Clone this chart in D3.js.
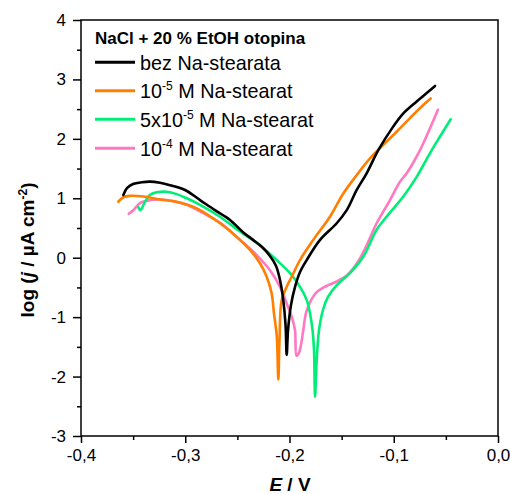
<!DOCTYPE html>
<html>
<head>
<meta charset="utf-8">
<script src="https://cdn.jsdelivr.net/npm/d3@7/dist/d3.min.js"></script>
<style>
  html, body { margin: 0; padding: 0; background: #fff; }
  svg { display: block; }
  text { font-family: "Liberation Sans", Arial, sans-serif; fill: #000; }
</style>
</head>
<body>
<svg id="chart" width="510" height="494"></svg>
<script>
// ---- data ----
const xTicks = [-0.4, -0.3, -0.2, -0.1, 0.0];
const xTickLabels = ["-0,4", "-0,3", "-0,2", "-0,1", "0,0"];
const yTicks = [-3, -2, -1, 0, 1, 2, 3, 4];
const yTickLabels = ["-3", "-2", "-1", "0", "1", "2", "3", "4"];

const seriesNames = ["bez Na-stearata", "10^-5 M Na-stearat", "5x10^-5 M Na-stearat", "10^-4 M Na-stearat"];
const seriesColors = ["#000000", "#ff7f00", "#00ee77", "#ff78c0"];

const bezE = [-0.3594,-0.3559,-0.3501,-0.3415,-0.3338,-0.3242,-0.3146,-0.3002,-0.2858,-0.2715,-0.2571,-0.2446,-0.235,-0.2264,-0.2187,-0.2129,-0.2091,-0.206,-0.2038,-0.2027,
  -0.2014,-0.1986,-0.1947,-0.1899,-0.1835,-0.1707,-0.1547,-0.1451,-0.1355,-0.126,-0.1148,-0.1004,-0.0908,-0.078,-0.0684,-0.0604];
const bezLogJ = [1.056,1.17,1.24,1.27,1.28,1.26,1.22,1.14,0.97,0.80,0.635,0.43,0.30,0.18,0.03,-0.14,-0.375,-0.71,-1.13,-1.638,
  -1.22,-0.80,-0.49,-0.24,-0.04,0.30,0.58,0.80,1.14,1.42,1.81,2.21,2.43,2.63,2.77,2.89];

const m5E = [-0.3642,-0.3594,-0.353,-0.3402,-0.3242,-0.3082,-0.289,-0.2731,-0.2571,-0.2379,-0.2283,-0.2219,-0.2171,-0.2149,-0.2123,-0.2107,
  -0.2096,-0.2075,-0.2027,-0.1979,-0.1899,-0.1772,-0.1612,-0.1484,-0.1355,-0.1228,-0.11,-0.0972,-0.0844,-0.0717,-0.0646];
const m5LogJ = [0.943,1.017,1.04,1.03,0.98,0.94,0.83,0.66,0.45,0.13,-0.094,-0.32,-0.60,-0.94,-1.30,-2.05,
  -1.39,-0.71,-0.49,-0.32,-0.04,0.30,0.69,1.08,1.39,1.67,1.90,2.12,2.35,2.57,2.68];

const m55E = [-0.345,-0.3431,-0.3386,-0.3338,-0.3274,-0.3178,-0.3082,-0.2986,-0.2858,-0.2667,-0.2475,-0.2283,-0.2123,-0.1995,-0.1899,-0.1835,-0.1803,-0.1779,-0.1765,-0.1755,
  -0.1739,-0.1717,-0.1679,-0.1631,-0.1547,-0.142,-0.1292,-0.1164,-0.1055,-0.0908,-0.078,-0.0652,-0.0556,-0.0454];
const m55LogJ = [0.85,0.80,0.94,1.06,1.10,1.11,1.07,1.00,0.89,0.69,0.44,0.21,-0.04,-0.26,-0.49,-0.71,-0.94,-1.22,-1.55,-2.34,
  -1.72,-1.22,-0.88,-0.66,-0.46,-0.26,0.02,0.47,0.72,1.03,1.36,1.76,2.04,2.33];

const m4E = [-0.3542,-0.3498,-0.3434,-0.3338,-0.3242,-0.3115,-0.2986,-0.2827,-0.2667,-0.2475,-0.2315,-0.2187,-0.2091,-0.2027,-0.1979,-0.1947,-0.1933,
  -0.1909,-0.189,-0.1868,-0.1842,-0.1803,-0.1739,-0.165,-0.1547,-0.1451,-0.1388,-0.1324,-0.126,-0.1164,-0.1036,-0.094,-0.0876,-0.0748,-0.0652,-0.0576];
const m4LogJ = [0.74,0.80,0.92,0.97,0.98,0.95,0.89,0.75,0.59,0.30,0.045,-0.21,-0.49,-0.77,-0.99,-1.22,-1.65,
  -1.60,-1.47,-1.22,-0.93,-0.75,-0.58,-0.48,-0.40,-0.30,-0.18,-0.01,0.21,0.58,0.97,1.28,1.42,1.81,2.18,2.49];

const seriesE = [bezE, m5E, m55E, m4E];
const seriesLogJ = [bezLogJ, m5LogJ, m55LogJ, m4LogJ];

// ---- layout ----
const svg = d3.select("#chart");
const x = d3.scaleLinear().domain([-0.4, 0.0]).range([81, 498]);
const y = d3.scaleLinear().domain([-3, 4]).range([436, 20]);

const line = d3.line().x(d => x(d[0])).y(d => y(d[1])).curve(d3.curveCatmullRom.alpha(0.5));
const plot = svg.append("g");
const order = [3, 2, 1, 0];
order.forEach(i => {
  const pts = seriesE[i].map((e, k) => [e, seriesLogJ[i][k]]);
  plot.append("path")
    .attr("d", line(pts))
    .attr("fill", "none")
    .attr("stroke", seriesColors[i])
    .attr("stroke-width", 2.6)
    .attr("stroke-linejoin", "round")
    .attr("stroke-linecap", "round");
});

// frame
svg.append("rect").attr("x", 81).attr("y", 20).attr("width", 417).attr("height", 416)
  .attr("fill", "none").attr("stroke", "#000").attr("stroke-width", 1.5);

// x axis
const xAxis = d3.axisBottom(x).tickValues(xTicks).tickFormat((d, i) => xTickLabels[i]).tickSize(7).tickPadding(6);
const gx = svg.append("g").attr("transform", "translate(0,436)").call(xAxis);
gx.select(".domain").remove();
gx.selectAll(".tick line").attr("stroke", "#000").attr("stroke-width", 1.5);
gx.selectAll(".tick text").attr("font-size", "17px").attr("font-family", "Liberation Sans, Arial, sans-serif").attr("fill", "#000");
const xMinor = d3.axisBottom(x).tickValues(d3.range(-0.35, 0, 0.1)).tickFormat("").tickSize(4);
const gxm = svg.append("g").attr("transform", "translate(0,436)").call(xMinor);
gxm.select(".domain").remove();
gxm.selectAll(".tick line").attr("stroke", "#000").attr("stroke-width", 1.5);

// y axis
const yAxis = d3.axisLeft(y).tickValues(yTicks).tickFormat((d, i) => yTickLabels[i]).tickSize(8).tickPadding(7);
const gy = svg.append("g").attr("transform", "translate(81,0)").call(yAxis);
gy.select(".domain").remove();
gy.selectAll(".tick line").attr("stroke", "#000").attr("stroke-width", 1.5);
gy.selectAll(".tick text").attr("font-size", "17px").attr("font-family", "Liberation Sans, Arial, sans-serif").attr("fill", "#000");
const yMinor = d3.axisLeft(y).tickValues(d3.range(-2.5, 4, 1)).tickFormat("").tickSize(4);
const gym = svg.append("g").attr("transform", "translate(81,0)").call(yMinor);
gym.select(".domain").remove();
gym.selectAll(".tick line").attr("stroke", "#000").attr("stroke-width", 1.5);

// axis titles
const xt = svg.append("text").attr("x", 290).attr("y", 491).attr("text-anchor", "middle")
  .attr("font-size", "19px").attr("font-weight", "bold");
xt.append("tspan").attr("font-style", "italic").text("E");
xt.append("tspan").text(" / V");

const yt = svg.append("text").attr("transform", "translate(34,250) rotate(-90)").attr("text-anchor", "middle")
  .attr("font-size", "19px").attr("font-weight", "bold");
yt.append("tspan").text("log (");
yt.append("tspan").attr("font-style", "italic").text("j");
yt.append("tspan").text(" / \u00b5A cm");
yt.append("tspan").attr("dy", -7).attr("font-size", "12px").text("-2");
yt.append("tspan").attr("dy", 7).text(")");

// legend
svg.append("text").attr("x", 95).attr("y", 44).attr("font-size", "17px").attr("font-weight", "bold")
  .text("NaCl + 20 % EtOH otopina");
const legY = [62.3, 90.7, 119.3, 148.3];
seriesNames.forEach((name, i) => {
  svg.append("line").attr("x1", 95).attr("x2", 135).attr("y1", legY[i]).attr("y2", legY[i])
    .attr("stroke", seriesColors[i]).attr("stroke-width", 3);
  const t = svg.append("text").attr("x", 140).attr("y", legY[i] + 7.7).attr("font-size", "19.8px");
  const parts = name.split("^");
  if (parts.length === 1) {
    t.text(name);
  } else {
    const base = parts[0];
    const m = parts[1].match(/^(-\d+)(.*)$/);
    t.append("tspan").text(base);
    t.append("tspan").attr("dy", -8).attr("font-size", "12px").text(m[1]);
    t.append("tspan").attr("dy", 8).text(m[2]);
  }
});
</script>
</body>
</html>
